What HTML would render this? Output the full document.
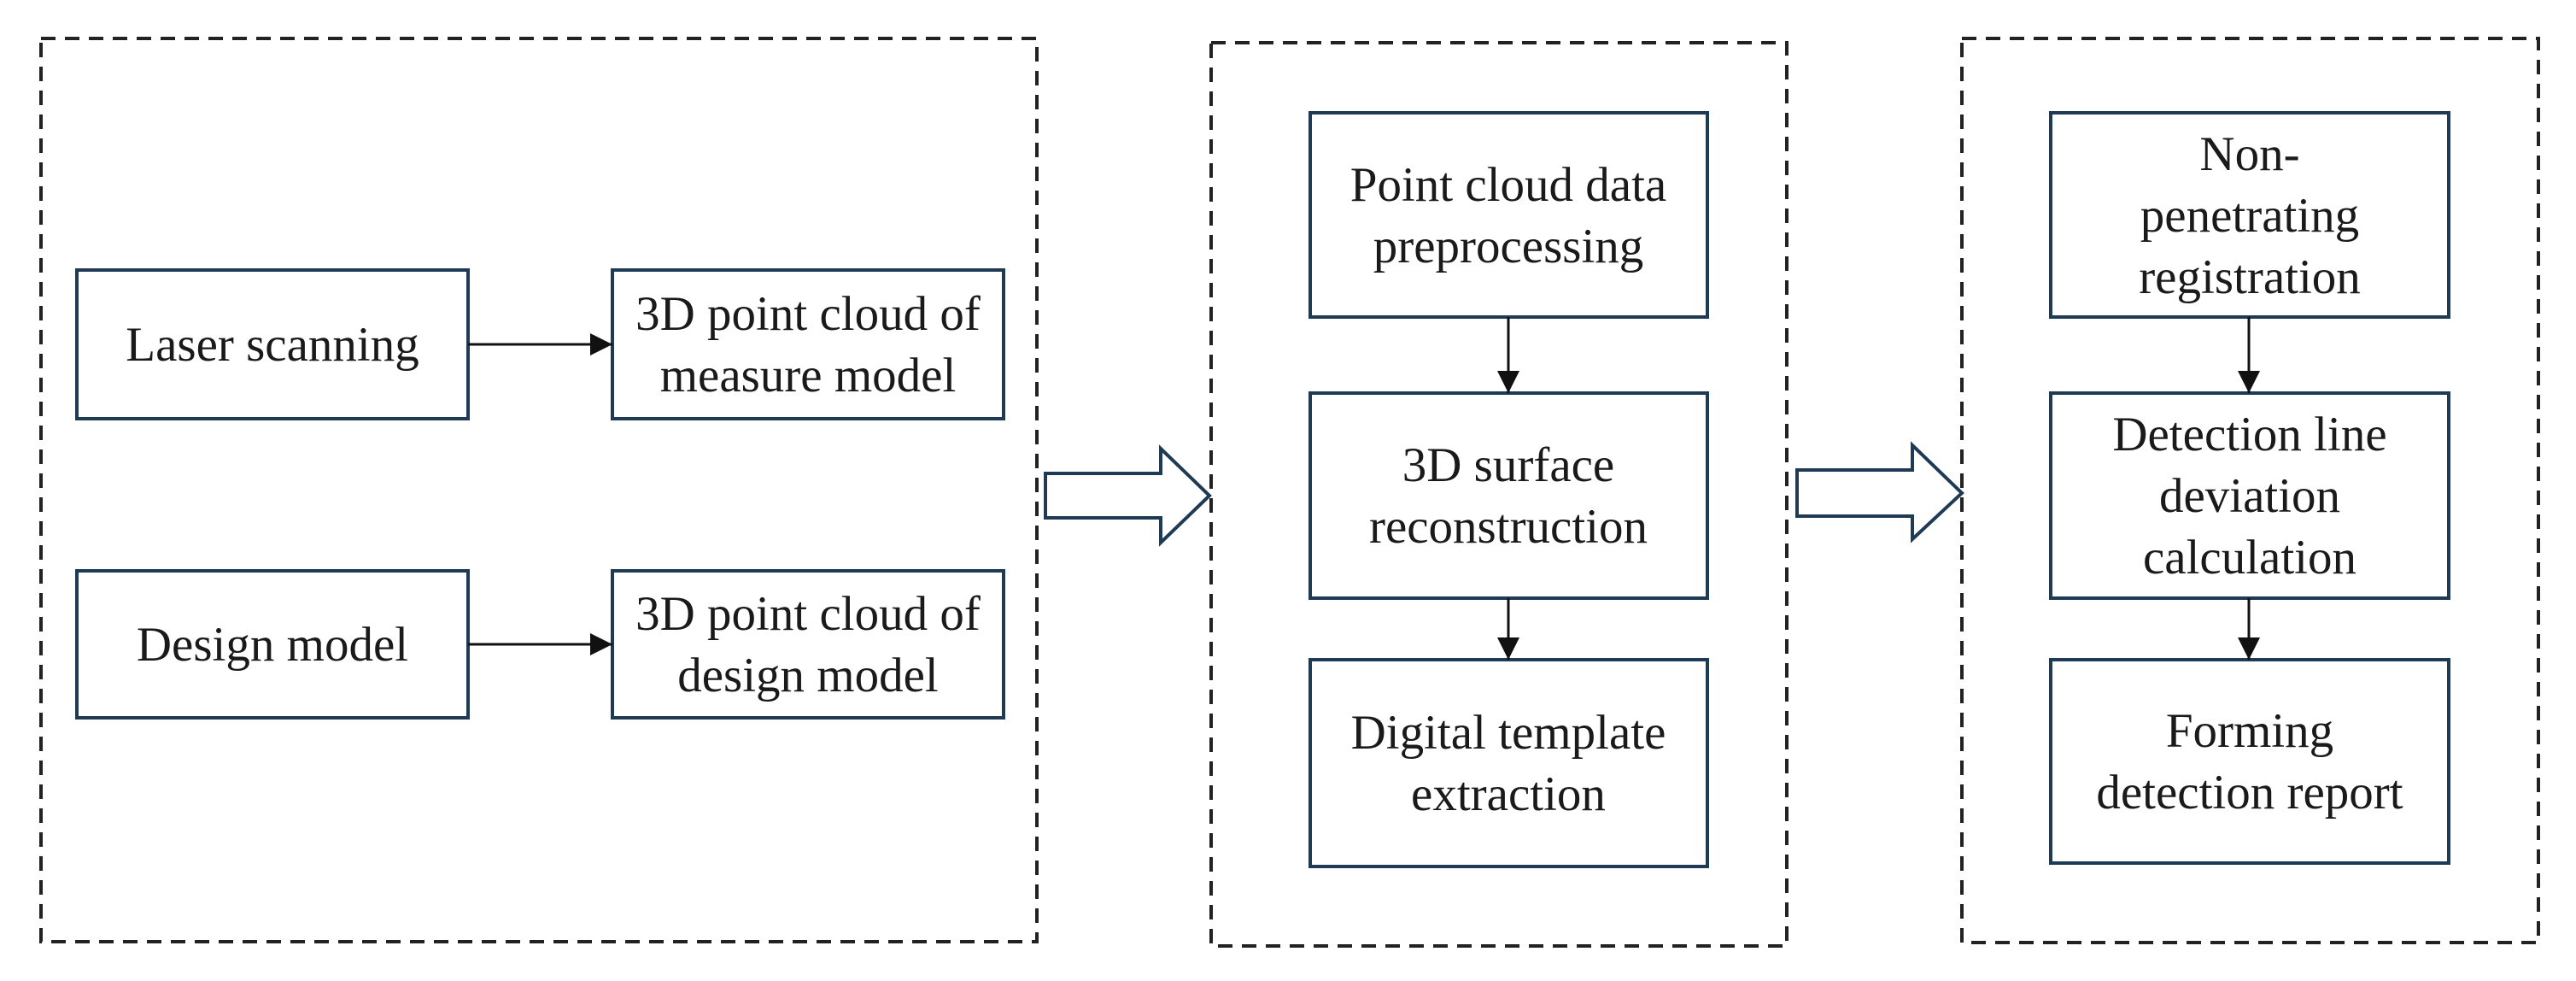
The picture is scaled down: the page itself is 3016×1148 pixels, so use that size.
<!DOCTYPE html>
<html><head><meta charset="utf-8"><style>
html,body{margin:0;padding:0;background:#fff;}
svg{display:block;}
text{font-family:"Liberation Serif",serif;font-size:57px;fill:#1a1a1a;text-anchor:middle;}
</style></head><body>
<svg width="3016" height="1148" viewBox="0 0 3016 1148" xmlns="http://www.w3.org/2000/svg">
<defs>
<marker id="ah" viewBox="0 0 10 10" refX="10" refY="5" markerWidth="26" markerHeight="26" markerUnits="userSpaceOnUse" orient="auto">
<path d="M0,0 L10,5 L0,10 z" fill="#111"/>
</marker>
</defs>
<g fill="none" stroke="#222" stroke-width="4" stroke-dasharray="17 11">
<rect x="48" y="45" width="1166" height="1057"/>
<rect x="1418" y="50" width="674" height="1057"/>
<rect x="2297" y="45" width="675" height="1058"/>
</g>
<g fill="#fff" stroke="#1f3a55" stroke-width="4">
<rect x="90" y="316" width="458" height="174"/>
<rect x="717" y="316" width="458" height="174"/>
<rect x="90" y="668" width="458" height="172"/>
<rect x="717" y="668" width="458" height="172"/>
<rect x="1534" y="132" width="465" height="239"/>
<rect x="1534" y="460" width="465" height="240"/>
<rect x="1534" y="772" width="465" height="242"/>
<rect x="2401" y="132" width="466" height="239"/>
<rect x="2401" y="460" width="466" height="240"/>
<rect x="2401" y="772" width="466" height="238"/>
</g>
<g stroke="#111" stroke-width="3" fill="none">
<line x1="548" y1="403" x2="717" y2="403" marker-end="url(#ah)"/>
<line x1="548" y1="754" x2="717" y2="754" marker-end="url(#ah)"/>
<line x1="1766" y1="371" x2="1766" y2="460" marker-end="url(#ah)"/>
<line x1="1766" y1="700" x2="1766" y2="772" marker-end="url(#ah)"/>
<line x1="2633" y1="371" x2="2633" y2="460" marker-end="url(#ah)"/>
<line x1="2633" y1="700" x2="2633" y2="772" marker-end="url(#ah)"/>
</g>
<g fill="#fff" stroke="#1f3a55" stroke-width="4" stroke-linejoin="miter">
<path d="M1224,554 L1359,554 L1359,525 L1416,580 L1359,635 L1359,606 L1224,606 Z"/>
<path d="M2104,550 L2239,550 L2239,521 L2297,577 L2239,631 L2239,604 L2104,604 Z"/>
</g>
<text x="319" y="422">Laser scanning</text>
<text x="946" y="386">3D point cloud of</text>
<text x="946" y="458">measure model</text>
<text x="319" y="773">Design model</text>
<text x="946" y="737">3D point cloud of</text>
<text x="946" y="809">design model</text>
<text x="1766" y="235">Point cloud data</text>
<text x="1766" y="307">preprocessing</text>
<text x="1766" y="563">3D surface</text>
<text x="1766" y="635">reconstruction</text>
<text x="1766" y="876">Digital template</text>
<text x="1766" y="948">extraction</text>
<text x="2634" y="199">Non-</text>
<text x="2634" y="271">penetrating</text>
<text x="2634" y="343">registration</text>
<text x="2634" y="527">Detection line</text>
<text x="2634" y="599">deviation</text>
<text x="2634" y="671">calculation</text>
<text x="2634" y="874">Forming</text>
<text x="2634" y="946">detection report</text>
</svg>
</body></html>
